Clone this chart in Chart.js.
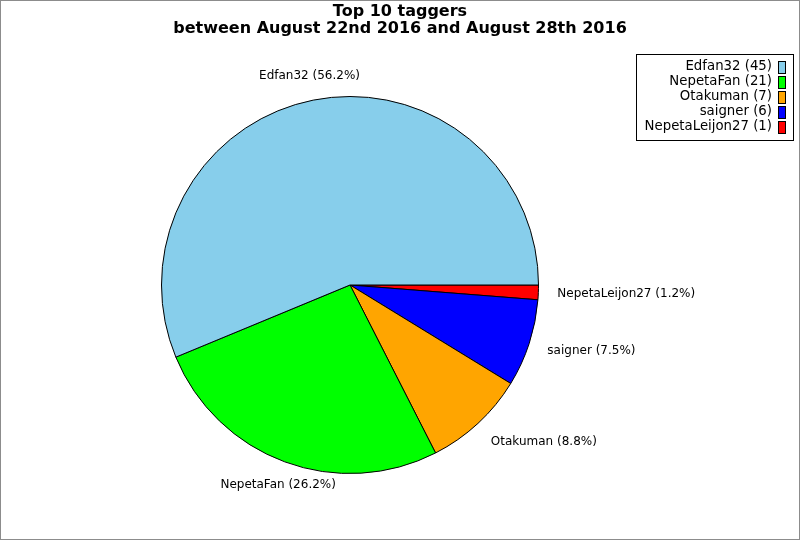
<!DOCTYPE html>
<html>
<head>
<meta charset="utf-8">
<script src="https://cdn.jsdelivr.net/npm/chart.js@4/dist/chart.umd.min.js"></script>
<style>
html,body{margin:0;padding:0;background:#fff;}
#wrap{position:relative;width:800px;height:540px;box-sizing:border-box;border:1px solid #8c8c8c;}
canvas{display:block;}
</style>
</head>
<body>
<div id="wrap"><canvas id="c" width="798" height="538"></canvas></div>
<script>
const titleLines = ["Top 10 taggers", "between August 22nd 2016 and August 28th 2016"];
const taggers = ["Edfan32", "NepetaFan", "Otakuman", "saigner", "NepetaLeijon27"];
const counts = [45, 21, 7, 6, 1];
const colors = ["#87CEEB", "#00FF00", "#FFA500", "#0000FF", "#FF0000"];

// round-half-even, one decimal
function pct(v, total) {
  const x = v / total * 1000;
  let f = Math.floor(x);
  const d = x - f;
  if (Math.abs(d - 0.5) < 1e-9) { if (f % 2 === 1) f += 1; }
  else if (d > 0.5) f += 1;
  return (f / 10).toFixed(1) + "%";
}
const total = counts.reduce((a, b) => a + b, 0);

// Chart.js draws clockwise; reference goes counter-clockwise from 3 o'clock
const dLabels = taggers.slice().reverse();
const dValues = counts.slice().reverse();
const dColors = colors.slice().reverse();

const FONT = "'DejaVu Sans', sans-serif";

const decor = {
  id: 'decor',
  afterDraw(chart) {
    const ctx = chart.ctx;
    ctx.save();
    // title
    ctx.fillStyle = '#000';
    ctx.font = "bold 16px " + FONT;
    ctx.textAlign = 'center';
    ctx.textBaseline = 'middle';
    ctx.fillText(titleLines[0], 399, 11);
    ctx.fillText(titleLines[1], 399, 28);

    // slice labels
    const meta = chart.getDatasetMeta(0);
    ctx.font = "12px " + FONT;
    meta.data.forEach((arc, i) => {
      const p = arc.getProps(['x', 'y', 'startAngle', 'endAngle', 'outerRadius'], true);
      const mid = (p.startAngle + p.endAngle) / 2;
      const c = Math.cos(mid), s = Math.sin(mid);
      const r = p.outerRadius + 19;
      const px = p.x + c * r, py = p.y + s * r;
      const txt = dLabels[i] + " (" + pct(dValues[i], total) + ")";
      ctx.textAlign = c > 0.4 ? 'left' : (c < -0.4 ? 'right' : 'center');
      ctx.textBaseline = 'middle';
      ctx.fillText(txt, px, py + s * 6);
    });

    // legend
    const lx0 = 635, ly0 = 53, lx1 = 792, ly1 = 139;
    ctx.fillStyle = '#fff';
    ctx.fillRect(lx0, ly0, lx1 - lx0, ly1 - ly0);
    ctx.strokeStyle = '#000';
    ctx.lineWidth = 1;
    ctx.strokeRect(lx0 + 0.5, ly0 + 0.5, lx1 - lx0, ly1 - ly0);
    ctx.font = "13.3px " + FONT;
    ctx.textAlign = 'right';
    ctx.textBaseline = 'middle';
    taggers.forEach((t, i) => {
      const y = 66 + i * 15;
      ctx.fillStyle = '#000';
      ctx.fillText(t + " (" + counts[i] + ")", 771, y);
      ctx.fillStyle = colors[i];
      ctx.fillRect(777, y - 6, 8, 13);
      ctx.strokeStyle = '#000';
      ctx.strokeRect(777.5, y - 5.5, 7, 12);
    });
    ctx.restore();
  }
};

new Chart(document.getElementById('c'), {
  type: 'pie',
  data: {
    labels: dLabels,
    datasets: [{
      data: dValues,
      backgroundColor: dColors,
      borderColor: '#000',
      borderWidth: 1,
      borderAlign: 'center'
    }]
  },
  options: {
    responsive: false,
    animation: false,
    rotation: 90,
    layout: { padding: { left: 160, right: 260, top: 95, bottom: 65 } },
    plugins: { legend: { display: false }, title: { display: false }, tooltip: { enabled: false } }
  },
  plugins: [decor]
});
</script>
</body>
</html>
